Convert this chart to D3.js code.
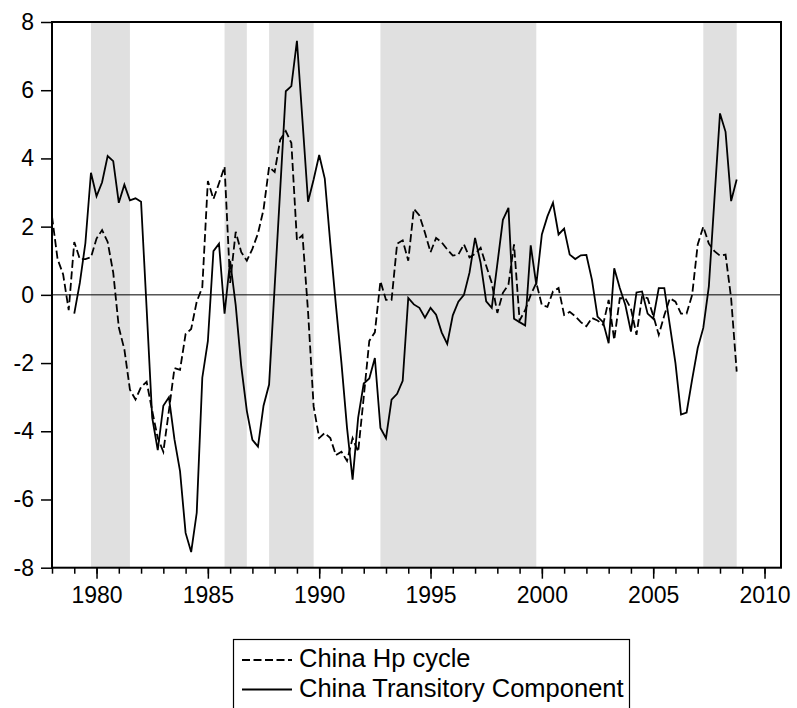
<!DOCTYPE html>
<html>
<head>
<meta charset="utf-8">
<script src="https://cdn.jsdelivr.net/npm/d3@7"></script>
<style>
  html, body { margin: 0; padding: 0; background: #fff; }
  svg { display: block; font-family: "Liberation Sans", Arial, sans-serif; }
</style>
</head>
<body>
<svg id="chart" width="797" height="708"></svg>
<script>
// ---- Data (quarterly, first observation 1978Q1) ----
const startYear = 1978;
const hpCycle = [
  2.3, 1.05, 0.6, -0.45, 1.55, 1.05, 1.05, 1.1, 1.65, 1.9, 1.55, 0.65,
  -0.95, -1.6, -2.78, -3.07, -2.7, -2.55, -3.4, -4.2, -4.6, -3.4, -2.15, -2.2,
  -1.15, -1.0, -0.2, 0.22, 3.34, 2.81, 3.27, 3.76, 0.35, 1.85, 1.25, 1.0,
  1.35, 1.8, 2.5, 3.75, 3.6, 4.55, 4.8, 4.45, 1.6, 1.75, -0.5, -3.27,
  -4.2, -4.05, -4.2, -4.7, -4.6, -4.87, -4.2, -4.6, -3.0, -1.35, -1.1, 0.4,
  -0.15, -0.15, 1.5, 1.6, 1.0, 2.52, 2.33, 1.82, 1.25, 1.67, 1.54, 1.33,
  1.15, 1.18, 1.48, 1.1, 1.2, 1.38, 0.85, 0.35, -0.53, 0.06, 0.3, 1.48,
  -0.75, -0.45, 0.0, 0.35, -0.3, -0.35, 0.1, 0.2, -0.59, -0.5, -0.63, -0.8,
  -0.92, -0.68, -0.75, -0.88, -0.15, -1.32, -0.1, -0.1, -0.4, -1.17, -0.05, -0.1,
  -0.6, -1.17, -0.6, -0.1, -0.2, -0.55, -0.55, 0.0, 1.48, 2.0, 1.5, 1.28,
  1.15, 1.18, -0.1, -2.25
];
const transitory = [
  null, null, null, null, -0.55, 0.35, 1.52, 3.58, 2.89, 3.3, 4.07, 3.92,
  2.7, 3.23, 2.77, 2.83, 2.73, -0.4, -3.6, -4.55, -3.25, -3.0, -4.24, -5.17,
  -6.98, -7.54, -6.39, -2.43, -1.36, 1.28, 1.5, -0.55, 1.0, -0.3, -2.1, -3.4,
  -4.25, -4.45, -3.25, -2.63, 0.24, 3.1, 5.97, 6.12, 7.45, 5.1, 2.73, 3.38,
  4.1, 3.41, 1.5, -0.3, -2.0, -3.9, -5.42, -3.6, -2.6, -2.45, -1.85, -3.9,
  -4.2, -3.07, -2.9, -2.52, -0.09, -0.28, -0.38, -0.67, -0.38, -0.58, -1.1, -1.44,
  -0.6, -0.2, 0.0, 0.65, 1.67, 0.94, -0.19, -0.38, 0.9, 2.2, 2.55, -0.7,
  -0.8, -0.9, 1.45, 0.3, 1.77, 2.3, 2.7, 1.77, 1.94, 1.18, 1.05, 1.16,
  1.17, 0.44, -0.64, -0.8, -1.42, 0.78, 0.2, -0.3, -1.08, 0.07, 0.1, -0.55,
  -0.7, 0.2, 0.2, -0.9, -2.0, -3.51, -3.45, -2.48, -1.56, -0.97, 0.25, 2.8,
  5.32, 4.78, 2.75, 3.38
];
const bandStarts = [1979.75, 1985.75, 1987.75, 1992.75, 2007.25];
const bandEnds   = [1981.5, 1986.75, 1989.75, 1999.75, 2008.75];
const yTicks = [-8, -6, -4, -2, 0, 2, 4, 6, 8];
const xMajorTicks = [1980, 1985, 1990, 1995, 2000, 2005, 2010];
const xMinorTicks = d3.range(1978, 2011);
const seriesNames = ["China Hp cycle", "China Transitory Component"];

// ---- Layout ----
const svg = d3.select("#chart");
const L = 52, R = 781, T = 22, B = 567.7;
const x = d3.scaleLinear().domain([1978, 2010.74]).range([L, R]);
const y = d3.scaleLinear().domain([-8, 8]).range([B, T]);
const dateOf = i => startYear + i / 4;

// shaded bands
svg.append("g").selectAll("rect")
  .data(bandStarts.map((s, k) => [s, bandEnds[k]]))
  .join("rect")
  .attr("x", d => x(d[0]))
  .attr("width", d => x(d[1]) - x(d[0]))
  .attr("y", T)
  .attr("height", B - T)
  .attr("fill", "#e0e0e0");

// zero line
svg.append("line")
  .attr("x1", L).attr("x2", R)
  .attr("y1", y(0)).attr("y2", y(0))
  .attr("stroke", "#000").attr("stroke-width", 1);

// series lines
const line = d3.line()
  .defined(d => d.v !== null)
  .x(d => x(d.t))
  .y(d => y(d.v));

const hpData = hpCycle.map((v, i) => ({ t: dateOf(i), v }));
const trData = transitory.map((v, i) => ({ t: dateOf(i), v }));

svg.append("path").datum(hpData)
  .attr("d", line)
  .attr("fill", "none").attr("stroke", "#000")
  .attr("stroke-width", 1.8)
  .attr("stroke-dasharray", "8,3.5");

svg.append("path").datum(trData)
  .attr("d", line)
  .attr("fill", "none").attr("stroke", "#000")
  .attr("stroke-width", 1.8)
  .attr("stroke-linejoin", "miter");

// frame
svg.append("rect")
  .attr("x", L).attr("y", T)
  .attr("width", R - L).attr("height", B - T)
  .attr("fill", "none").attr("stroke", "#000").attr("stroke-width", 2);

// y axis
const yAxis = d3.axisLeft(y).tickValues(yTicks).tickSize(11).tickPadding(7)
  .tickFormat(d => String(d));
const gy = svg.append("g").attr("transform", `translate(${L},0)`).call(yAxis);
gy.select(".domain").remove();
gy.selectAll(".tick line").attr("stroke-width", 1.5);
gy.selectAll(".tick text").attr("font-size", 23).attr("font-family", "Liberation Sans, Arial, sans-serif").attr("fill", "#000");

// x axis minor ticks
const gxMinor = svg.append("g").attr("transform", `translate(0,${B})`)
  .call(d3.axisBottom(x).tickValues(xMinorTicks).tickSize(6).tickFormat(""));
gxMinor.select(".domain").remove();
gxMinor.selectAll(".tick line").attr("stroke-width", 1.5);

// x axis major ticks + labels
const gx = svg.append("g").attr("transform", `translate(0,${B})`)
  .call(d3.axisBottom(x).tickValues(xMajorTicks).tickSize(11).tickPadding(8)
    .tickFormat(d => String(d)));
gx.select(".domain").remove();
gx.selectAll(".tick line").attr("stroke-width", 1.5);
gx.selectAll(".tick text").attr("font-size", 23).attr("font-family", "Liberation Sans, Arial, sans-serif").attr("fill", "#000");

// legend
const lg = svg.append("g");
lg.append("rect")
  .attr("x", 233.5).attr("y", 639.5)
  .attr("width", 396).attr("height", 90)
  .attr("fill", "#fff").attr("stroke", "#000").attr("stroke-width", 1.2);
const legendRows = [
  { name: seriesNames[0], dash: "8,3.5", ly: 660, ty: 667 },
  { name: seriesNames[1], dash: null, ly: 689.5, ty: 697 }
];
legendRows.forEach(r => {
  lg.append("line")
    .attr("x1", 242).attr("x2", 292)
    .attr("y1", r.ly).attr("y2", r.ly)
    .attr("stroke", "#000").attr("stroke-width", 1.8)
    .attr("stroke-dasharray", r.dash);
  lg.append("text")
    .attr("x", 299).attr("y", r.ty)
    .attr("font-size", 25.5)
    .attr("fill", "#000")
    .text(r.name);
});
</script>
</body>
</html>
